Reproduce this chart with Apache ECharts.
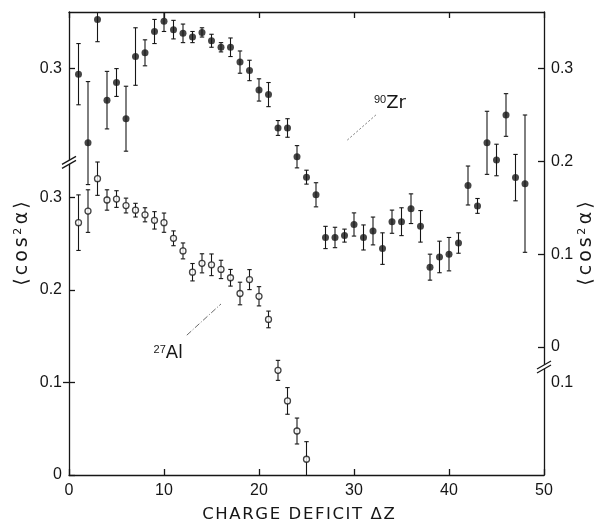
<!DOCTYPE html>
<html>
<head>
<meta charset="utf-8">
<script src="https://cdn.jsdelivr.net/npm/echarts@6/dist/echarts.min.js"></script>
<style>
  html, body { margin: 0; padding: 0; background: #fff; }
  #chart { width: 597px; height: 521px; }
</style>
</head>
<body>
<div id="chart"></div>
<script>
// Mean <cos^2 alpha> versus charge deficit, for 90Zr (filled) and 27Al (open)
const zrDeltaZ = [1, 2, 3, 4, 5, 6, 7, 8, 9, 10, 11, 12, 13, 14, 15, 16, 17, 18, 19, 20, 21, 22, 23, 24,
                  25, 26, 27, 28, 29, 30, 31, 32, 33, 34, 35, 36, 37, 38, 39, 40, 41, 42, 43, 44, 45, 46, 47, 48];
const zrValues = [0.294, 0.220, 0.353, 0.266, 0.285, 0.246, 0.313, 0.317, 0.340, 0.351, 0.342, 0.338,
                  0.334, 0.339, 0.330, 0.323, 0.323, 0.307, 0.298, 0.277, 0.272, 0.236, 0.236, 0.205,
                  0.183, 0.164, 0.118, 0.118, 0.120, 0.132, 0.118, 0.125, 0.106, 0.135, 0.135, 0.149,
                  0.130, 0.086, 0.097, 0.100, 0.112, 0.174, 0.152, 0.220, 0.2015, 0.250, 0.1825, 0.176];
const zrErrUp = [0.033, 0.066, 0.024, 0.031, 0.015, 0.035, 0.031, 0.014, 0.013, 0.011, 0.010, 0.010,
                 0.006, 0.005, 0.007, 0.005, 0.010, 0.012, 0.011, 0.012, 0.013, 0.008, 0.010, 0.012,
                 0.0075, 0.013, 0.012, 0.011, 0.007, 0.0125, 0.0135, 0.015, 0.017, 0.0125, 0.015, 0.016,
                 0.017, 0.014, 0.017, 0.018, 0.011, 0.021, 0.008, 0.034, 0.017, 0.023, 0.025, 0.074];
const zrErrDown = [0.033, 0.045, 0.024, 0.031, 0.015, 0.035, 0.031, 0.014, 0.013, 0.011, 0.010, 0.010,
                   0.006, 0.005, 0.007, 0.005, 0.010, 0.012, 0.011, 0.012, 0.013, 0.008, 0.010, 0.012,
                   0.0075, 0.013, 0.012, 0.011, 0.007, 0.0125, 0.0135, 0.015, 0.017, 0.0125, 0.015, 0.016,
                   0.017, 0.014, 0.017, 0.018, 0.011, 0.021, 0.008, 0.034, 0.017, 0.023, 0.025, 0.074];

const alDeltaZ = [1, 2, 3, 4, 5, 6, 7, 8, 9, 10, 11, 12, 13, 14, 15, 16, 17, 18, 19, 20, 21, 22, 23, 24, 25];
const alValues = [0.2725, 0.285, 0.320, 0.297, 0.298, 0.291, 0.286, 0.281, 0.275, 0.2725, 0.2556, 0.242,
                  0.219, 0.2286, 0.227, 0.222, 0.213, 0.196, 0.211, 0.193, 0.168, 0.113, 0.080, 0.0475, 0.017];
const alErr = [0.030, 0.023, 0.018, 0.011, 0.009, 0.008, 0.0074, 0.0076, 0.0094, 0.0104, 0.008, 0.0086,
               0.0094, 0.0103, 0.0117, 0.0099, 0.009, 0.0122, 0.0108, 0.0104, 0.009, 0.0108, 0.0144, 0.014, 0.019];

const alTicksLeft = [0, 0.1, 0.2, 0.3];
const alTicksRight = [0.1];
const zrTicksRight = [0, 0.1, 0.2, 0.3];
const zrTicksLeft = [0.3];

const INK = '#161616';
const FONT = 'Liberation Sans, Arial, sans-serif';
const WIDE_FONT = 'DejaVu Sans, Liberation Sans, sans-serif';

const chart = echarts.init(document.getElementById('chart'), null, { renderer: 'canvas' });

function errorBar(params, api) {
  const x = api.value(0);
  const lo = api.coord([x, api.value(1)]);
  const hi = api.coord([x, api.value(2)]);
  const cap = 2.2;
  const style = { stroke: INK, lineWidth: 1.1 };
  return {
    type: 'group',
    children: [
      { type: 'line', shape: { x1: lo[0], y1: lo[1], x2: hi[0], y2: hi[1] }, style },
      { type: 'line', shape: { x1: lo[0] - cap, y1: lo[1], x2: lo[0] + cap, y2: lo[1] }, style },
      { type: 'line', shape: { x1: hi[0] - cap, y1: hi[1], x2: hi[0] + cap, y2: hi[1] }, style }
    ]
  };
}

const zrBars = zrDeltaZ.map((x, i) => [x, zrValues[i] - zrErrDown[i], zrValues[i] + zrErrUp[i]]);
const alBars = alDeltaZ.map((x, i) => [x, alValues[i] - alErr[i], alValues[i] + alErr[i]]);
const zrPoints = zrDeltaZ.map((x, i) => [x, zrValues[i]]);
const alPoints = alDeltaZ.map((x, i) => [x, alValues[i]]);

const fmt = v => (v === 0 ? '0' : v.toFixed(1));
const lineStyle = { color: INK, width: 1.3 };
const labelStyle = { color: INK, fontSize: 16, fontFamily: FONT };

// Spaced-out lettering built from one rich-text token per character
const spaced = (text, style) => text.split('').map(ch => `{${style}|${ch}}`).join('');

const yName = spaced('⟨cos', 'a') + '{s|2}' + spaced('α⟩', 'a');
const yNameStyle = {
  color: INK, fontSize: 19, fontFamily: WIDE_FONT,
  rich: {
    a: { fontSize: 19, fontFamily: WIDE_FONT, color: INK, padding: [0, 1.5, 0, 1.5] },
    s: { fontSize: 11, fontFamily: WIDE_FONT, color: INK, verticalAlign: 'top', padding: [0, 2, 0, 1] }
  }
};
const xName = spaced('CHARGE DEFICIT ΔZ', 'c');
const xNameStyle = {
  color: INK, fontSize: 16.5, fontFamily: WIDE_FONT, padding: [0, 16, 0, 0],
  rich: { c: { fontSize: 16.5, fontFamily: WIDE_FONT, color: INK, padding: [0, 0.8, 0, 0.8] } }
};

function yAxisDef(opts) {
  return Object.assign({
    type: 'value',
    splitLine: { show: false },
    nameMoveOverlap: false,
    axisLine: { show: true, onZero: false, lineStyle },
    axisTick: { show: true, inside: true, length: 6, lineStyle, customValues: opts.ticks },
    axisLabel: { show: true, margin: 7, formatter: fmt, customValues: opts.ticks, ...labelStyle }
  }, opts.extra);
}

chart.setOption({
  animation: false,
  backgroundColor: '#fff',
  grid: { left: 69, right: 53, top: 12, bottom: 46, containLabel: false, outerBoundsMode: 'none' },
  xAxis: [
    {
      type: 'value', min: 0, max: 50, interval: 10, position: 'bottom',
      splitLine: { show: false },
      axisLine: { onZero: false, lineStyle },
      axisTick: { inside: true, length: 6, lineStyle },
      axisLabel: { margin: 8, color: INK, fontSize: 16, fontFamily: FONT },
      name: xName, nameLocation: 'middle', nameGap: 31, nameTextStyle: xNameStyle
    },
    {
      type: 'value', min: 0, max: 50, interval: 10, position: 'top',
      splitLine: { show: false },
      axisLine: { onZero: false, lineStyle },
      axisTick: { inside: true, length: 6, lineStyle },
      axisLabel: { show: false }
    }
  ],
  yAxis: [
    yAxisDef({ ticks: alTicksLeft, extra: {
      min: 0, max: 0.5, position: 'left',
      name: yName, nameLocation: 'middle', nameGap: 37, nameTextStyle: yNameStyle } }),
    yAxisDef({ ticks: zrTicksRight, extra: {
      min: -0.138, max: 0.361, position: 'right',
      name: yName, nameLocation: 'middle', nameGap: 33, nameTextStyle: yNameStyle } }),
    yAxisDef({ ticks: alTicksRight, extra: {
      min: 0, max: 0.5, position: 'right', axisLine: { show: false } } }),
    yAxisDef({ ticks: zrTicksLeft, extra: {
      min: -0.138, max: 0.361, position: 'left', axisLine: { show: false } } })
  ],
  series: [
    {
      type: 'custom', name: 'Zr errors', xAxisIndex: 0, yAxisIndex: 1, clip: true,
      renderItem: errorBar, encode: { x: 0, y: [1, 2] }, data: zrBars, z: 2
    },
    {
      type: 'scatter', name: '90Zr', xAxisIndex: 0, yAxisIndex: 1, data: zrPoints,
      symbol: 'circle', symbolSize: 7, itemStyle: { color: INK }, z: 3
    },
    {
      type: 'custom', name: 'Al errors', xAxisIndex: 0, yAxisIndex: 0, clip: true,
      renderItem: errorBar, encode: { x: 0, y: [1, 2] }, data: alBars, z: 2
    },
    {
      type: 'scatter', name: '27Al', xAxisIndex: 0, yAxisIndex: 0, data: alPoints,
      symbol: 'circle', symbolSize: 6,
      itemStyle: { color: '#fff', borderColor: INK, borderWidth: 1.3 }, z: 3
    }
  ]
});

// Annotations (isotope labels with leader lines, axis break marks), placed in axis units
const px = (x, y, yi) => chart.convertToPixel({ xAxisIndex: 0, yAxisIndex: yi }, [x, y]);

function breakMark(c) {
  const [cx, cy] = c;
  const s = { stroke: INK, lineWidth: 1.3 };
  return [
    { type: 'polygon', shape: { points: [[cx - 7, cy + 2], [cx + 7, cy - 6], [cx + 7, cy - 2], [cx - 7, cy + 6]] },
      style: { fill: '#fff' }, z: 10 },
    { type: 'line', shape: { x1: cx - 7, y1: cy + 2, x2: cx + 7, y2: cy - 6 }, style: s, z: 11 },
    { type: 'line', shape: { x1: cx - 7, y1: cy + 6, x2: cx + 7, y2: cy - 2 }, style: s, z: 11 }
  ];
}

const zrLabel = px(32.1, 0.253, 1);
const zrLeadA = px(29.3, 0.223, 1);
const zrLeadB = px(32.3, 0.250, 1);
const alLabel = px(8.9, 0.122, 0);
const alLeadA = px(12.4, 0.151, 0);
const alLeadB = px(16.0, 0.1847, 0);
const leftBreak = px(0, 0.199, 1);
const rightBreak = px(50, 0.1166, 0);

const labelRich = {
  s: { fontSize: 11, fontFamily: FONT, fill: INK, verticalAlign: 'top' },
  n: { fontSize: 18, fontFamily: WIDE_FONT, fill: INK, verticalAlign: 'bottom' }
};

chart.setOption({
  graphic: [
    { type: 'text', x: zrLabel[0], y: zrLabel[1], z: 12,
      style: { text: '{s|90}{n|Zr}', rich: labelRich, align: 'left', verticalAlign: 'bottom' } },
    { type: 'line', shape: { x1: zrLeadA[0], y1: zrLeadA[1], x2: zrLeadB[0], y2: zrLeadB[1] },
      style: { stroke: '#555', lineWidth: 0.8, lineDash: [2, 2] }, z: 12 },
    { type: 'text', x: alLabel[0], y: alLabel[1], z: 12,
      style: { text: '{s|27}{n|Al}', rich: labelRich, align: 'left', verticalAlign: 'bottom' } },
    { type: 'line', shape: { x1: alLeadA[0], y1: alLeadA[1], x2: alLeadB[0], y2: alLeadB[1] },
      style: { stroke: '#444', lineWidth: 0.8, lineDash: [6, 2, 1, 2] }, z: 12 },
    ...breakMark(leftBreak),
    ...breakMark(rightBreak)
  ]
});
</script>
</body>
</html>
